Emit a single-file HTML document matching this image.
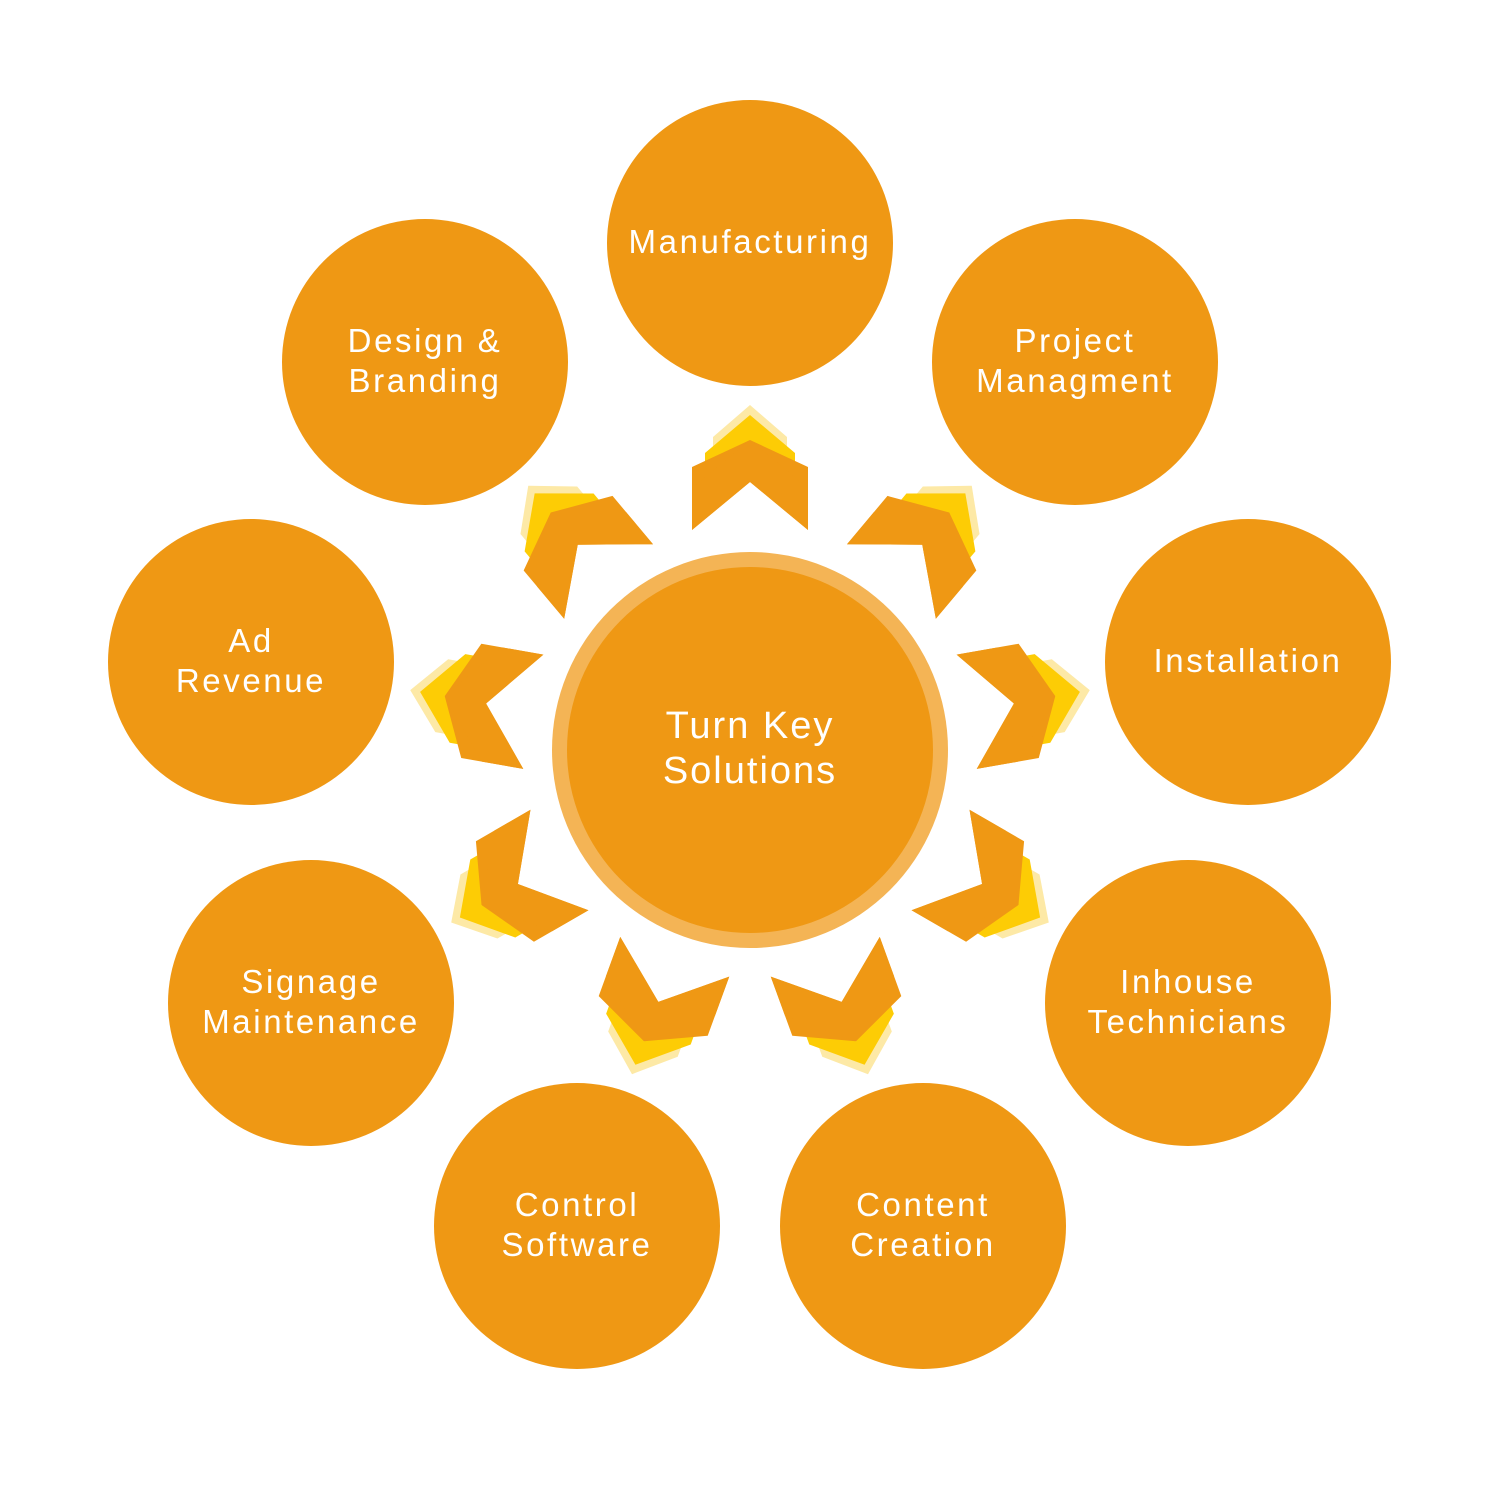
<!DOCTYPE html>
<html><head><style>body{margin:0;background:#fff}svg{display:block}</style></head><body>
<svg width="1500" height="1500" viewBox="0 0 1500 1500" xmlns="http://www.w3.org/2000/svg">
<defs>
<g id="chev">
<polygon points="750,405 787,437 787,455 750,425 713,455 713,437" fill="#fde9a6"/>
<polygon points="750,415 795,453 795,477 750,440 705,477 705,453" fill="#fdcc05"/>
<polygon points="750,440 808,467 808,530 750,482 692,530 692,467" fill="#ef9814"/>
<polygon points="750,440 808,488 808,530 750,482 692,530 692,488" fill="#ef9814"/>
</g>
</defs>
<use href="#chev" transform="rotate(0 750 750)"/>
<use href="#chev" transform="rotate(40 750 750)"/>
<use href="#chev" transform="rotate(80 750 750)"/>
<use href="#chev" transform="rotate(120 750 750)"/>
<use href="#chev" transform="rotate(160 750 750)"/>
<use href="#chev" transform="rotate(200 750 750)"/>
<use href="#chev" transform="rotate(240 750 750)"/>
<use href="#chev" transform="rotate(280 750 750)"/>
<use href="#chev" transform="rotate(320 750 750)"/>
<circle cx="750" cy="750" r="198" fill="#f4b455"/>
<circle cx="750" cy="750" r="183" fill="#ef9814"/>
<g fill="#ef9814">
<circle cx="750" cy="243" r="143"/>
<circle cx="1075" cy="362" r="143"/>
<circle cx="1248" cy="662" r="143"/>
<circle cx="1188" cy="1003" r="143"/>
<circle cx="923" cy="1226" r="143"/>
<circle cx="577" cy="1226" r="143"/>
<circle cx="311" cy="1003" r="143"/>
<circle cx="251" cy="662" r="143"/>
<circle cx="425" cy="362" r="143"/>
</g>
<g fill="#fff" font-family="Liberation Sans, sans-serif" font-size="33" text-anchor="middle" letter-spacing="2.6">
<text x="750" y="253">Manufacturing</text>
<text x="1075" y="352">Project</text><text x="1075" y="392">Managment</text>
<text x="1248" y="672">Installation</text>
<text x="1188" y="993">Inhouse</text><text x="1188" y="1033">Technicians</text>
<text x="923" y="1216">Content</text><text x="923" y="1256">Creation</text>
<text x="577" y="1216">Control</text><text x="577" y="1256">Software</text>
<text x="311" y="993">Signage</text><text x="311" y="1033">Maintenance</text>
<text x="251" y="652">Ad</text><text x="251" y="692">Revenue</text>
<text x="425" y="352">Design &amp;</text><text x="425" y="392">Branding</text>
<text x="750" y="738" font-size="38" letter-spacing="2">Turn Key</text><text x="750" y="783" font-size="38" letter-spacing="2">Solutions</text>
</g>
</svg>
</body></html>
